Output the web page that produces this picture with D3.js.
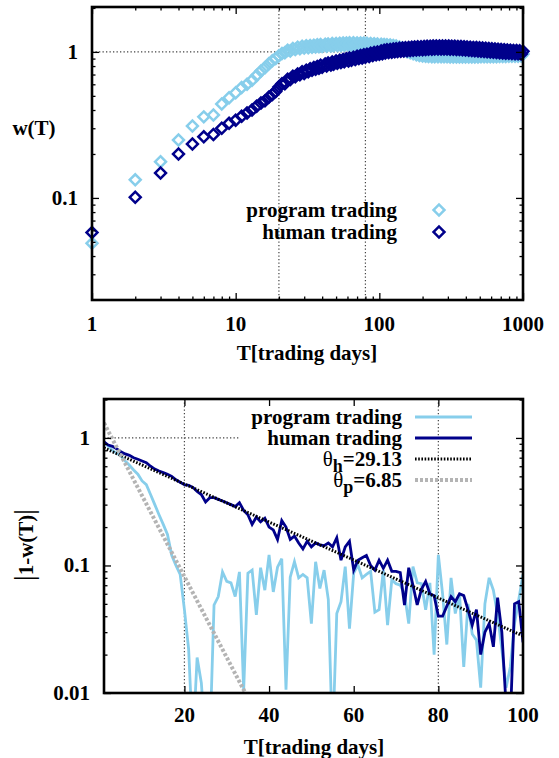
<!DOCTYPE html>
<html><head><meta charset="utf-8">
<script src="https://cdn.jsdelivr.net/npm/d3@7"></script>
<style>body{margin:0;background:#fff} text{font-family:"Liberation Serif","Times New Roman","DejaVu Serif",serif;}</style>
</head><body>
<svg id="c" width="559" height="758"></svg>
<script>
// ---------- DATA ----------
// Top panel: w(T) vs T (log-log)
const topT = [1,2,3,4,5,6,7,8,9,10,11,12,13,14,15,16,17,18,19,
  20,21,22,23,24,25,26,27,28,29,30,31,32,33,34,35,36,37,38,39,40,
  42,43,44,46,47,48,50,51,53,54,56,57,59,
  61,62,64,66,68,70,72,74,76,78,80,82,85,87,90,92,95,97,100,
  103,105,108,110,113,116,119,122,125,128,
  131,134,138,141,145,148,152,156,160,164,
  168,172,176,181,185,190,195,200,205,210,
  215,220,226,232,237,243,249,256,262,269,
  275,282,289,296,304,311,319,327,335,344,
  352,361,370,379,389,398,408,419,429,440,
  451,462,474,486,498,510,523,536,550,563,
  578,592,607,622,638,654,670,687,704,722,
  740,758,777,797,817,837,858,880,902,924,
  947,971,1000];
const topProgram = [0.049,0.133,0.177,0.249,0.311,0.359,0.370,0.440,0.485,0.525,0.570,0.600,0.640,0.690,0.740,0.780,0.830,0.870,0.900,
  0.940,0.975,0.985,1.025,1.015,1.055,1.040,1.078,1.052,1.095,1.062,1.100,1.068,1.108,1.075,1.112,1.080,1.118,1.084,1.122,1.088,
  1.128,1.092,1.134,1.098,1.140,1.102,1.144,1.106,1.148,1.108,1.150,1.110,1.152,
  1.112,1.154,1.112,1.154,1.112,1.153,1.110,1.152,1.108,1.150,1.105,1.146,1.100,1.142,1.095,1.138,1.090,1.134,1.085,
  1.128,1.082,1.124,1.078,1.120,1.074,1.114,1.068,1.106,1.060,
  1.096,1.050,1.082,1.038,1.064,1.022,1.044,1.004,1.024,0.986,
  1.006,0.970,0.988,0.956,0.974,0.946,0.964,0.938,0.958,0.932,
  0.958,0.930,0.957,0.928,0.956,0.927,0.956,0.926,0.955,0.926,
  0.955,0.925,0.954,0.925,0.954,0.924,0.953,0.924,0.953,0.924,
  0.953,0.924,0.953,0.924,0.953,0.924,0.953,0.924,0.953,0.924,
  0.953,0.924,0.953,0.924,0.954,0.925,0.954,0.925,0.955,0.926,
  0.955,0.926,0.956,0.927,0.957,0.928,0.958,0.929,0.959,0.930,
  0.960,0.931,0.961,0.932,0.962,0.933,0.963,0.934,0.964,0.935,
  0.965,0.936,0.966];
const topHuman = [0.058,0.101,0.148,0.200,0.234,0.262,0.272,0.300,0.325,0.340,0.362,0.382,0.400,0.425,0.447,0.462,0.490,0.510,0.535,
  0.575,0.605,0.605,0.650,0.648,0.680,0.675,0.705,0.698,0.730,0.712,0.748,0.732,0.768,0.748,0.782,0.760,0.795,0.772,0.810,0.785,
  0.826,0.800,0.838,0.812,0.852,0.822,0.868,0.836,0.878,0.846,0.888,0.855,0.898,
  0.866,0.908,0.876,0.920,0.888,0.932,0.900,0.945,0.910,0.955,0.918,0.965,0.930,0.978,0.945,0.990,0.955,1.000,0.965,
  1.015,0.972,1.025,0.982,1.035,0.990,1.040,0.996,1.048,1.002,
  1.052,1.006,1.058,1.012,1.062,1.016,1.068,1.020,1.072,1.024,
  1.076,1.028,1.080,1.030,1.084,1.034,1.086,1.036,1.090,1.040,
  1.092,1.042,1.094,1.044,1.096,1.045,1.097,1.046,1.098,1.046,
  1.098,1.046,1.097,1.045,1.096,1.044,1.095,1.042,1.093,1.040,
  1.091,1.038,1.088,1.035,1.085,1.032,1.082,1.028,1.078,1.024,
  1.074,1.020,1.070,1.016,1.066,1.012,1.062,1.008,1.058,1.004,
  1.054,1.000,1.050,0.996,1.046,0.992,1.042,0.988,1.038,0.984,
  1.034,0.980,1.030,0.977,1.027,0.974,1.024,0.972,1.021,0.970,
  1.018,0.968,1.012];

// Bottom panel: |1-w(T)| vs T (lin-log), T = 1..100
const botProgram = [0.93,0.86,0.80,0.76,0.72,0.66,0.61,0.56,0.52,0.46,
  0.43,0.36,0.30,0.25,0.21,0.175,0.12,0.10,0.085,0.045,
  0.022,0.004,0.019,0.012,0.004,0.004,0.049,0.057,0.089,0.075,
  0.073,0.057,0.089,0.0105,0.087,0.092,0.041,0.096,0.064,0.121,
  0.062,0.097,0.113,0.0106,0.081,0.107,0.080,0.085,0.080,0.035,
  0.107,0.066,0.092,0.054,0.004,0.042,0.052,0.098,0.032,0.087,
  0.101,0.080,0.085,0.090,0.043,0.045,0.092,0.034,0.077,0.072,
  0.070,0.060,0.035,0.098,0.073,0.072,0.045,0.073,0.020,0.121,
  0.060,0.024,0.080,0.042,0.060,0.016,0.050,0.029,0.026,0.011,
  0.050,0.080,0.064,0.041,0.022,0.011,0.016,0.035,0.054,0.085];
const botHuman = [0.93,0.88,0.86,0.82,0.78,0.75,0.73,0.70,0.68,0.66,
  0.64,0.60,0.57,0.55,0.535,0.52,0.50,0.47,0.45,0.43,
  0.425,0.41,0.38,0.36,0.315,0.34,0.34,0.33,0.32,0.31,
  0.30,0.29,0.31,0.27,0.25,0.21,0.24,0.22,0.235,0.20,
  0.19,0.16,0.225,0.20,0.16,0.17,0.15,0.135,0.155,0.14,
  0.15,0.145,0.143,0.15,0.14,0.165,0.11,0.14,0.155,0.092,
  0.11,0.115,0.12,0.10,0.092,0.11,0.095,0.11,0.09,0.09,
  0.088,0.049,0.096,0.07,0.049,0.065,0.075,0.06,0.058,0.04,
  0.04,0.048,0.057,0.052,0.06,0.058,0.045,0.034,0.045,0.02,
  0.03,0.035,0.023,0.056,0.03,0.008,0.006,0.05,0.052,0.025];
// exponential fits (straight lines on log scale): endpoints
const fitHumanT = [1, 100], fitHumanV = [0.835, 0.028];
const fitProgramT = [1, 34.4], fitProgramV = [1.31, 0.00999];

const legendTop = ["program trading", "human trading"];
const topXTicks = [1, 10, 100, 1000];
const topYTicks = [0.1, 1];
const botXTicks = [20, 40, 60, 80, 100];
const botYTicks = [0.01, 0.1, 1];

// ---------- DRAW ----------
const LIGHT = "#87ceeb", DARK = "#00008b";
const FONT = '"Liberation Serif","Times New Roman","DejaVu Serif",serif';
const svg = d3.select("#c");

function minorLog(lo, hi) {
  const out = [];
  for (let e = -3; e <= 3; e++) for (let k = 2; k <= 9; k++) {
    const v = k * Math.pow(10, e);
    if (v > lo * 1.0001 && v < hi * 0.9999) out.push(v);
  }
  return out;
}
function label(g, x, y, txt, anchor, size) {
  return g.append("text").attr("x", x).attr("y", y).attr("text-anchor", anchor || "middle")
    .style("font-family", FONT).attr("font-weight", "bold").attr("font-size", size || 21).text(txt);
}
function frameAxes(g, x, y, xMaj, xMin, yMaj, yMin, L, R, T, B) {
  [[xMaj, 7], [xMin, 3.5]].forEach(([vals, len]) => {
    g.append("g").attr("transform", `translate(0,${B})`).call(d3.axisBottom(x).tickValues(vals).tickSize(-len).tickFormat(""))
      .call(s => s.select(".domain").remove()).selectAll("line").attr("stroke-width", 1.3);
    g.append("g").attr("transform", `translate(0,${T})`).call(d3.axisTop(x).tickValues(vals).tickSize(-len).tickFormat(""))
      .call(s => s.select(".domain").remove()).selectAll("line").attr("stroke-width", 1.3);
  });
  [[yMaj, 7], [yMin, 3.5]].forEach(([vals, len]) => {
    g.append("g").attr("transform", `translate(${L},0)`).call(d3.axisLeft(y).tickValues(vals).tickSize(-len).tickFormat(""))
      .call(s => s.select(".domain").remove()).selectAll("line").attr("stroke-width", 1.3);
    g.append("g").attr("transform", `translate(${R},0)`).call(d3.axisRight(y).tickValues(vals).tickSize(-len).tickFormat(""))
      .call(s => s.select(".domain").remove()).selectAll("line").attr("stroke-width", 1.3);
  });
  g.append("rect").attr("x", L).attr("y", T).attr("width", R - L).attr("height", B - T)
    .attr("fill", "none").attr("stroke", "#000").attr("stroke-width", 2.6);
}
const DOT = {stroke: "#444", w: 1.2, dash: "1.3,2.2"};

// ===== TOP PANEL =====
{
  const L = 92, R = 523, T = 7, B = 300;
  const x = d3.scaleLog().domain([1, 1000]).range([L, R]);
  const y = d3.scaleLog().domain([0.02, 2.03]).range([B, T]);
  const g = svg.append("g");
  g.append("clipPath").attr("id", "clipTop").append("rect").attr("x", L - 8).attr("y", T).attr("width", R - L + 16).attr("height", B - T);
  const guides = g.append("g").attr("stroke", DOT.stroke).attr("stroke-width", DOT.w).attr("stroke-dasharray", DOT.dash);
  guides.append("line").attr("x1", L).attr("x2", R).attr("y1", y(1)).attr("y2", y(1));
  [20, 80].forEach(v => guides.append("line").attr("x1", x(v)).attr("x2", x(v)).attr("y1", T).attr("y2", B));

  const diamond = d3.symbol().type(d3.symbolSquare).size(60)();
  const series = [[topProgram, LIGHT], [topHuman, DARK]];
  const pts = g.append("g").attr("clip-path", "url(#clipTop)");
  series.forEach(([vals, col]) => {
    pts.append("g").selectAll("path").data(topT.map((t, i) => [t, vals[i]])).join("path")
      .attr("d", diamond).attr("fill", "none").attr("stroke", col).attr("stroke-width", 2.5)
      .attr("transform", d => `translate(${x(d[0])},${y(d[1])}) rotate(45)`);
  });
  frameAxes(g, x, y, topXTicks, minorLog(1, 1000), topYTicks, minorLog(0.02, 2.03), L, R, T, B);
  topXTicks.forEach(v => label(g, x(v), 331, String(v)));
  topYTicks.forEach(v => label(g, 78, y(v) + 7, String(v), "end"));
  label(g, 307, 360, "T[trading days]");
  label(g, 34, 135, "w(T)");
  legendTop.forEach((name, i) => {
    const yy = 210 + 22 * i;
    label(g, 397, yy + 7, name, "end");
    g.append("path").attr("d", diamond).attr("fill", "none").attr("stroke", series[i][1]).attr("stroke-width", 2.5)
      .attr("transform", `translate(439,${yy}) rotate(45)`);
  });
}

// ===== BOTTOM PANEL =====
{
  const L = 104, R = 523, T = 399, B = 693;
  const x = d3.scaleLinear().domain([1, 100]).range([L, R]);
  const y = d3.scaleLog().domain([0.01, 2.02]).range([B, T]);
  const g = svg.append("g");
  g.append("clipPath").attr("id", "clipBot").append("rect").attr("x", L).attr("y", T).attr("width", R - L).attr("height", B - T);
  const guides = g.append("g").attr("stroke", DOT.stroke).attr("stroke-width", DOT.w).attr("stroke-dasharray", DOT.dash);
  guides.append("line").attr("x1", L).attr("x2", x(33)).attr("y1", y(1)).attr("y2", y(1));
  [20, 80].forEach(v => guides.append("line").attr("x1", x(v)).attr("x2", x(v)).attr("y1", T).attr("y2", B));

  const botT = d3.range(1, 101);
  const line = d3.line().x(d => x(d[0])).y(d => y(d[1]));
  const plot = g.append("g").attr("clip-path", "url(#clipBot)");
  plot.append("path").attr("d", line(botT.map((t, i) => [t, botProgram[i]])))
    .attr("fill", "none").attr("stroke", LIGHT).attr("stroke-width", 2.8);
  plot.append("path").attr("d", line(botT.map((t, i) => [t, botHuman[i]])))
    .attr("fill", "none").attr("stroke", DARK).attr("stroke-width", 2.8);
  plot.append("path").attr("d", line(fitHumanT.map((t, i) => [t, fitHumanV[i]])))
    .attr("fill", "none").attr("stroke", "#000").attr("stroke-width", 3).attr("stroke-dasharray", "1.6,1.6");
  plot.append("path").attr("d", line(fitProgramT.map((t, i) => [t, fitProgramV[i]])))
    .attr("fill", "none").attr("stroke", "#b4b4b4").attr("stroke-width", 4).attr("stroke-dasharray", "3,2");

  frameAxes(g, x, y, botXTicks.slice(0, 4), [], botYTicks, minorLog(0.01, 2.02), L, R, T, B);
  botXTicks.forEach(v => label(g, x(v), 722, String(v)));
  botYTicks.forEach(v => label(g, 90, y(v) + 7, String(v), "end"));
  label(g, 314, 754, "T[trading days]");
  const yl = g.append("text").attr("transform", "translate(33,545) rotate(-90)").attr("text-anchor", "middle")
    .style("font-family", FONT).attr("font-weight", "bold").attr("font-size", 21);
  yl.append("tspan").attr("font-weight", "normal").attr("font-size", 28).text("|");
  yl.append("tspan").text("1-w(T)");
  yl.append("tspan").attr("font-weight", "normal").attr("font-size", 28).text("|");

  const rows = [
    {name: "program trading", stroke: LIGHT, w: 2.8, dash: null},
    {name: "human trading", stroke: DARK, w: 2.8, dash: null},
    {theta: "h", val: "=29.13", stroke: "#000", w: 3, dash: "1.6,1.6"},
    {theta: "p", val: "=6.85", stroke: "#b4b4b4", w: 4, dash: "3,2"}
  ];
  rows.forEach((r, i) => {
    const yy = 417 + 21 * i;
    if (r.name) label(g, 402, yy + 7, r.name, "end");
    else {
      const t = g.append("text").attr("x", 402).attr("y", yy + 7).attr("text-anchor", "end")
        .style("font-family", FONT).attr("font-weight", "bold").attr("font-size", 21);
      t.append("tspan").attr("font-weight", "normal").text("θ");
      t.append("tspan").attr("dy", 6).attr("font-size", 18).text(r.theta);
      t.append("tspan").attr("dy", -6).text(r.val);
    }
    g.append("line").attr("x1", 415).attr("x2", 472).attr("y1", yy).attr("y2", yy)
      .attr("stroke", r.stroke).attr("stroke-width", r.w).attr("stroke-dasharray", r.dash);
  });
}
</script>
</body></html>
